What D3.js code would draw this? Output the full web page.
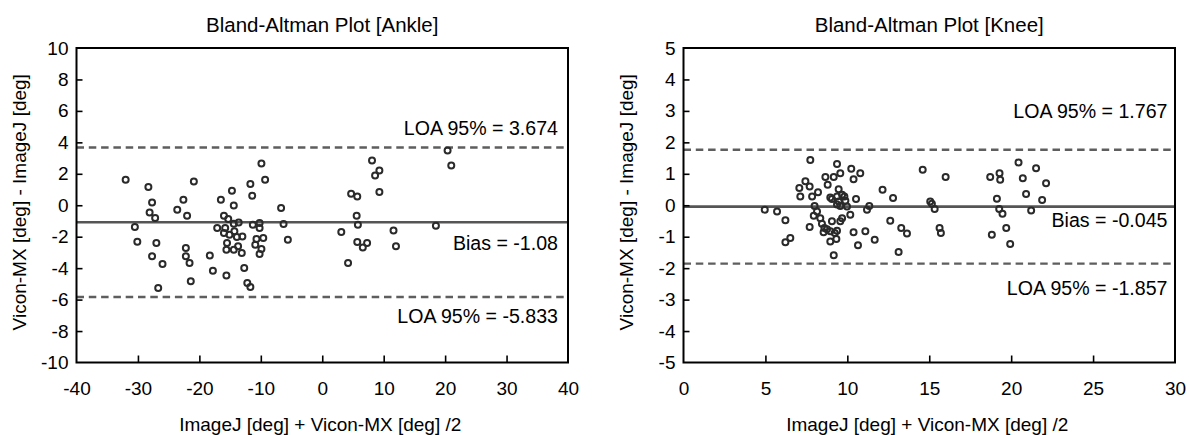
<!DOCTYPE html>
<html>
<head>
<meta charset="utf-8">
<script src="https://cdn.jsdelivr.net/npm/d3@7"></script>
<style>
  html, body { margin: 0; padding: 0; background: #fff; }
  svg { display: block; font-family: "Liberation Sans", Arial, sans-serif; }
</style>
</head>
<body>
<svg id="chart" width="1190" height="435"></svg>
<script>
// ---------- DATA ----------
const ankleMean = [-32.0, -28.3, -27.7, -23.6, -22.6, -20.9, -16.5, -14.7, -14.4, -11.7, -11.4, -9.9, -9.3, -6.7,
  20.4, 21.0, 8.1, 9.3, 8.6, 9.3, 4.7, 5.7,
  -28.1, -27.2, -22.0, -30.5, -30.1, -27.0, -27.7, -26.0, -26.7,
  -22.2, -22.2, -21.6, -21.4, -18.3, -17.8, -15.6,
  -17.1, -16.0, -15.8, -16.0, -15.1, -15.5, -15.6, -15.3,
  -14.4, -13.6, -14.3, -13.9, -13.0, -14.4, -13.7, -13.1, -12.7, -12.2, -11.7,
  -11.3, -10.2, -10.2, -10.7, -9.6, -10.9, -9.9, -10.2,
  -6.3, -5.6,
  5.6, 5.8, 3.1, 5.7, 7.3, 6.6, 4.2, 11.6, 12.0, 18.5];
const ankleDiff = [1.62, 1.16, 0.18, -0.29, 0.35, 1.51, 0.35, 0.92, -0.01, 1.35, 0.6, 2.65, 1.62, -0.18,
  3.48, 2.53, 2.85, 2.21, 1.89, 0.84, 0.73, 0.56,
  -0.46, -0.81, -0.67, -1.39, -2.32, -2.4, -3.25, -3.73, -5.26,
  -2.72, -3.25, -3.67, -4.84, -3.19, -4.16, -4.46,
  -1.45, -0.67, -1.45, -1.77, -1.87, -2.4, -2.83, -0.88,
  -1.17, -1.09, -1.66, -2.02, -1.98, -2.83, -2.61, -3.04, -3.99, -4.94, -5.2,
  -1.24, -1.13, -1.45, -2.15, -2.08, -2.51, -2.78, -3.1,
  -1.2, -2.19,
  -0.67, -1.24, -1.7, -2.34, -2.4, -2.68, -3.67, -1.6, -2.61, -1.3];

const kneeMean = [4.96, 5.71, 6.22, 6.22, 6.52, 7.07, 7.13, 7.44, 7.7, 7.74,
  7.7, 7.85, 8.21, 8.0, 8.15, 7.95, 8.35, 8.45, 8.6, 8.55,
  8.76, 8.96, 9.23, 8.96, 9.33, 9.17, 9.06, 9.37, 8.66, 8.8,
  8.96, 9.06, 9.17, 9.37, 9.57, 9.47, 9.37, 9.47, 9.37, 9.57,
  9.68, 9.82, 9.88, 9.68, 9.57, 9.98, 10.18, 10.24, 10.38, 10.53,
  10.79, 10.38, 10.65, 11.1, 11.2, 11.34, 11.67, 12.15, 12.79, 12.62,
  13.29, 13.64, 13.13, 14.6, 16.0, 15.06, 15.16, 15.33, 15.63, 15.71,
  18.72, 19.29, 19.33, 19.13, 19.27, 19.47, 18.82, 19.7, 19.94, 20.45,
  20.71, 21.52, 22.13, 20.91, 21.89, 21.22];
const kneeDiff = [-0.14, -0.2, -0.48, -1.18, -1.04, 0.55, 0.28, 0.76, 0.6, 1.44,
  -0.69, 0.28, 0.41, -0.02, -0.2, -0.33, -0.41, -0.59, -0.72, -0.86,
  -0.76, -0.83, -0.88, -1.15, -1.07, -1.59, -0.51, -0.81, 0.9, 0.65,
  0.25, 0.2, 0.9, 1.31, 1.02, 0.51, 0.28, 0.12, 0.02, -0.02,
  0.33, 0.28, 0.14, -0.41, -0.51, -0.04, -0.3, 1.16, 0.83, 0.2,
  1.02, -0.86, -1.27, -0.83, -0.14, -0.02, -1.1, 0.49, 0.23, -0.49,
  -0.72, -0.9, -1.49, 1.13, 0.9, 0.12, 0.05, -0.12, -0.72, -0.88,
  0.9, 1.02, 0.81, 0.21, -0.12, -0.27, -0.94, -0.72, -1.23, 1.36,
  0.86, 1.18, 0.7, 0.36, 0.17, -0.17];

const ankleXTicks = [-40, -30, -20, -10, 0, 10, 20, 30, 40];
const ankleYTicks = [-10, -8, -6, -4, -2, 0, 2, 4, 6, 8, 10];
const kneeXTicks = [0, 5, 10, 15, 20, 25, 30];
const kneeYTicks = [-5, -4, -3, -2, -1, 0, 1, 2, 3, 4, 5];

const ankleStats = { bias: -1.08, upper: 3.674, lower: -5.833 };
const kneeStats = { bias: -0.045, upper: 1.767, lower: -1.857 };

const titles = ["Bland-Altman Plot [Ankle]", "Bland-Altman Plot [Knee]"];
const xTitle = "ImageJ [deg] + Vicon-MX [deg] /2";
const yTitle = "Vicon-MX [deg] - ImageJ [deg]";

// ---------- LAYOUT ----------
const svg = d3.select("#chart");
const plotTop = 48, plotBottom = 362.5;
const fmt = d => String(d); // plain hyphen-minus like the original

const panels = [
  { x0: 76.5, x1: 568, xDom: [-40, 40], yDom: [-10, 10], xt: ankleXTicks, yt: ankleYTicks,
    mx: ankleMean, dy: ankleDiff, st: ankleStats, title: titles[0],
    labOff: { upper: -12.5, bias: 27.5, lower: 26 }, labPad: 10 },
  { x0: 683.5, x1: 1175, xDom: [0, 30], yDom: [-5, 5], xt: kneeXTicks, yt: kneeYTicks,
    mx: kneeMean, dy: kneeDiff, st: kneeStats, title: titles[1],
    labOff: { upper: -31.5, bias: 20, lower: 31 }, labPad: 7.5 }
];

panels.forEach(p => {
  const x = d3.scaleLinear().domain(p.xDom).range([p.x0, p.x1]);
  const y = d3.scaleLinear().domain(p.yDom).range([plotBottom, plotTop]);
  const g = svg.append("g");

  // reference lines
  const lineStyle = (sel, dashed) => sel
    .attr("x1", p.x0).attr("x2", p.x1)
    .attr("stroke", dashed ? "#5e5e5e" : "#555").attr("stroke-width", dashed ? 2.4 : 2.6)
    .attr("stroke-dasharray", dashed ? "7.5,4.8" : null);
  g.append("line").call(lineStyle, true).attr("y1", y(p.st.upper)).attr("y2", y(p.st.upper));
  g.append("line").call(lineStyle, true).attr("y1", y(p.st.lower)).attr("y2", y(p.st.lower));
  g.append("line").call(lineStyle, false).attr("y1", y(p.st.bias)).attr("y2", y(p.st.bias));

  // points
  g.append("g").selectAll("circle")
    .data(p.mx.map((v, i) => [v, p.dy[i]]))
    .join("circle")
    .attr("cx", d => x(d[0]))
    .attr("cy", d => y(d[1]))
    .attr("r", 3.0)
    .attr("fill", "none")
    .attr("stroke", "#2a2a2a")
    .attr("stroke-width", 2.0);

  // axes
  const ax = g.append("g").attr("transform", `translate(0,${plotBottom})`)
    .call(d3.axisBottom(x).tickValues(p.xt).tickFormat(fmt).tickSize(-7).tickPadding(19.5));
  const ay = g.append("g").attr("transform", `translate(${p.x0},0)`)
    .call(d3.axisLeft(y).tickValues(p.yt).tickFormat(fmt).tickSize(-6).tickPadding(8));
  [ax, ay].forEach(a => {
    a.select(".domain").remove();
    a.selectAll(".tick line").attr("stroke", "#000").attr("stroke-width", 1.6);
    a.selectAll(".tick text").attr("font-size", 19).attr("fill", "#000")
      .attr("font-family", "Liberation Sans, Arial, sans-serif");
  });
  ax.selectAll(".tick")
    .filter(d => d === p.xDom[0] || d === p.xDom[1]).select("line").remove();
  ay.selectAll(".tick")
    .filter(d => d === p.yDom[0] || d === p.yDom[1]).select("line").remove();

  // frame
  g.append("rect")
    .attr("x", p.x0).attr("y", plotTop)
    .attr("width", p.x1 - p.x0).attr("height", plotBottom - plotTop)
    .attr("fill", "none").attr("stroke", "#000").attr("stroke-width", 2);

  // labels
  const lx = p.x1 - p.labPad;
  const lab = (txt, yy) => g.append("text")
    .attr("x", lx).attr("y", yy)
    .attr("text-anchor", "end").attr("font-size", 19.6).attr("fill", "#000")
    .text(txt);
  lab(`LOA 95% = ${p.st.upper}`, y(p.st.upper) + p.labOff.upper);
  lab(`Bias = ${p.st.bias}`, y(p.st.bias) + p.labOff.bias);
  lab(`LOA 95% = ${p.st.lower}`, y(p.st.lower) + p.labOff.lower);

  // title
  const cx = (p.x0 + p.x1) / 2;
  g.append("text").attr("x", cx).attr("y", 32)
    .attr("text-anchor", "middle").attr("font-size", 20.5).attr("fill", "#000")
    .text(p.title);

  // axis titles
  g.append("text").attr("x", cx - 2).attr("y", 431)
    .attr("text-anchor", "middle").attr("font-size", 19).attr("fill", "#000")
    .text(xTitle);
  g.append("text")
    .attr("transform", `translate(${p.x0 - 50.5},${(plotTop + plotBottom) / 2 - 3}) rotate(-90)`)
    .attr("text-anchor", "middle").attr("font-size", 19).attr("fill", "#000")
    .text(yTitle);
});
</script>
</body>
</html>
